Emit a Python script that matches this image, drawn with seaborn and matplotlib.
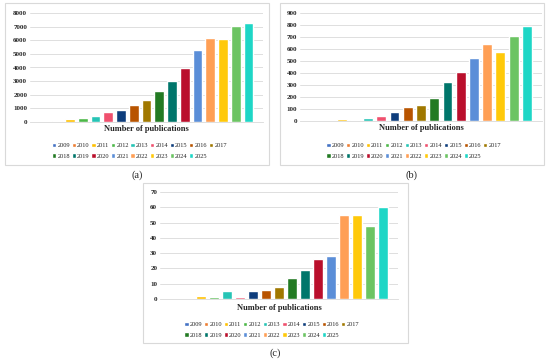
import matplotlib
matplotlib.use("Agg")
import matplotlib.pyplot as plt
from matplotlib.patches import Rectangle
import seaborn as sns

years = [str(y) for y in range(2009, 2026)]
category = "Number of publications"

pubs_a = [0, 90, 200, 300, 450, 700, 870, 1250, 1630, 2260, 3040, 3930, 5250, 6130, 6100, 7050, 7270]
pubs_b = [0, 0, 17, 8, 22, 45, 72, 114, 131, 195, 323, 409, 521, 638, 571, 707, 788]
pubs_c = [0, 0, 2, 1, 5, 1, 5, 6, 8, 14, 19, 26, 28, 55, 55, 48, 60]

colors = ["#4472C4", "#ED7D31", "#FFC000", "#4CB848", "#26C4B5", "#F0506E",
          "#0E3D7C", "#B85400", "#A07800", "#237A23", "#00766B", "#BA0F2C",
          "#5B8ED8", "#FF9F55", "#FFC90A", "#6CC463", "#1ED6C6"]

sns.set_style("white")
plt.rcParams['font.family'] = ['Liberation Serif', 'DejaVu Serif']

fig = plt.figure(figsize=(5.5, 3.59), dpi=100)
W, H = 550, 359


def px_axes(left, right, top, bottom):
    return fig.add_axes([left / W, 1 - bottom / H, (right - left) / W, (bottom - top) / H])


def draw_panel(ax, values, ymax, step, legend_y, xpad):
    sns.barplot(x=[category] * len(years), y=values, hue=years, hue_order=years,
                palette=colors, ax=ax, gap=0.25, width=0.8, errorbar=None,
                saturation=1)
    ax.set_xlim(-0.43, 0.43)
    ax.set_ylim(0, ymax)
    ax.set_yticks(range(0, ymax + 1, step))
    ax.yaxis.grid(True, color="#D9D9D9", lw=0.6)
    ax.set_axisbelow(True)
    for s in ["top", "right", "left"]:
        ax.spines[s].set_visible(False)
    ax.spines["bottom"].set_color("#D9D9D9")
    ax.spines["bottom"].set_linewidth(0.6)
    ax.tick_params(axis="y", length=0, pad=2)
    ax.tick_params(axis="x", length=0, pad=xpad)
    for t in ax.get_yticklabels():
        t.set_fontsize(5)
        t.set_fontweight("bold")
    for t in ax.get_xticklabels():
        t.set_fontsize(6)
        t.set_fontweight("bold")
    ax.set_xlabel("")
    ax.set_ylabel("")
    handles, labels = ax.get_legend_handles_labels()
    order = []
    for i in range(8):
        order += [i, i + 9]
    order.append(8)
    ax.legend([handles[i] for i in order], [labels[i] for i in order],
              ncol=9, loc="upper center", bbox_to_anchor=(0.47, legend_y),
              frameon=False, fontsize=4.6, handlelength=0.65, handleheight=0.65,
              handletextpad=0.2, columnspacing=0.25, labelspacing=0.8,
              borderpad=0)


ax_a = px_axes(30, 263, 13, 122)
draw_panel(ax_a, pubs_a, 8000, 1000, -0.163, 2)

ax_b = px_axes(300, 542, 13, 121)
draw_panel(ax_b, pubs_b, 900, 100, -0.174, 2.5)

ax_c = px_axes(160, 398, 192, 299)
draw_panel(ax_c, pubs_c, 70, 10, -0.185, 3.5)

for (x0, x1, y0, y1) in [(5, 269, 3, 165), (280, 544, 3, 165), (143, 408, 183, 343)]:
    fig.patches.append(Rectangle((x0 / W, 1 - y1 / H), (x1 - x0) / W, (y1 - y0) / H,
                                 transform=fig.transFigure, fill=False,
                                 edgecolor="#D9D9D9", lw=0.8))

fig.text(137 / W, 1 - 175 / H, "(a)", ha="center", va="center", fontsize=7.5)
fig.text(412 / W, 1 - 175 / H, "(b)", ha="center", va="center", fontsize=7.5)
fig.text(275 / W, 1 - 353 / H, "(c)", ha="center", va="center", fontsize=7.5)

fig.savefig("out.png", dpi=100)
